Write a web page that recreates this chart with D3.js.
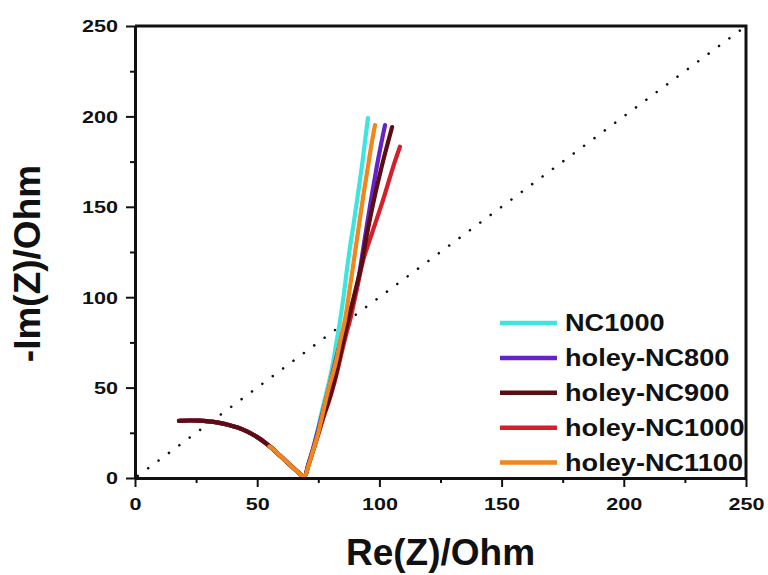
<!DOCTYPE html>
<html>
<head>
<meta charset="utf-8">
<script src="https://cdn.jsdelivr.net/npm/d3@7"></script>
<style>
  html, body { margin: 0; padding: 0; background: #fff; }
  svg { display: block; }
  text { font-family: "Liberation Sans", Arial, sans-serif; font-weight: bold; fill: #111; }
</style>
</head>
<body>
<svg id="chart" width="768" height="575"></svg>
<script>
// Nyquist plot: Re(Z) vs -Im(Z), in Ohm
const seriesNames = ["NC1000", "holey-NC800", "holey-NC900", "holey-NC1000", "holey-NC1100"];
const seriesColors = ["#3ee5de", "#6422c8", "#5c0d14", "#d4202a", "#f0861c"];

// high-frequency semicircle shared by most samples
const arcPoints = [
  [18, 31.6], [22, 31.8], [26, 31.7], [30, 31.3], [34, 30.6], [38, 29.5], [42, 27.9],
  [46, 25.6], [50, 22.6], [53, 19.8], [56, 16.5], [59, 12.8], [62, 9], [65, 5.3],
  [67.3, 2.6], [69.2, 0.6]
];

const nc1000 = arcPoints.concat([
  [71, 8], [73, 17], [75, 28], [77, 40], [79.2, 52], [80.8, 62], [82.3, 74], [83.9, 87],
  [85.3, 100], [86.6, 114], [88, 128], [89.4, 140], [91.1, 156], [92.8, 172], [94, 185], [95.3, 199]
]);

const holeyNC800 = arcPoints.concat([
  [71, 8], [73, 17], [75, 27], [77, 37.5], [79, 48], [81, 59], [83, 70], [85, 80], [87, 89],
  [88.8, 96], [90.5, 104], [92, 115], [94.2, 134], [96.6, 154], [98.9, 172], [100.6, 184], [102.3, 195.2]
]);

const holeyNC900 = arcPoints.concat([
  [71, 7.5], [73, 16], [75, 25], [77, 34], [78.8, 41], [80.3, 47.5], [82, 56], [83.7, 66],
  [85.3, 76], [87, 86], [88.8, 96], [90.6, 106], [92.4, 116], [94.8, 134], [97.8, 154],
  [100.9, 172], [102.4, 180], [105.2, 194.1]
]);

const holeyNC1000 = arcPoints.concat([
  [71, 7], [73, 15.5], [75, 24], [77, 33], [79, 41], [80.8, 49], [82.4, 57], [83.8, 65],
  [85.2, 73], [86.6, 80.5], [88, 87.4], [90.7, 104], [93.4, 120.6], [97, 135.5], [101.3, 153],
  [105.6, 172], [108.4, 183.2]
]);

const holeyNC1100 = [
  [55, 17.5], [57.5, 14.8], [60, 11.6], [62.5, 8.4], [65, 5.2], [67.3, 2.6], [69.2, 0.6],
  [71, 7], [72.8, 15], [74.6, 23], [76.2, 32], [77.7, 41], [79.5, 51], [81, 58], [82.5, 66],
  [84, 76], [85.9, 87.4], [87.2, 98.5], [89.2, 117], [91.2, 135.5], [93.3, 155], [95.3, 172],
  [96.7, 184], [98.2, 195.2]
];

const seriesData = [nc1000, holeyNC800, holeyNC900, holeyNC1000, holeyNC1100];
const drawOrder = [0, 1, 3, 2, 4];

const majorTicks = [0, 50, 100, 150, 200, 250];
const minorTicks = [25, 75, 125, 175, 225];
const refLine = [[0, 0], [250, 250]];

const svg = d3.select("#chart");
const margin = { left: 135, right: 22, top: 26, bottom: 97 };
const W = 768, H = 575;

const x = d3.scaleLinear().domain([0, 250]).range([margin.left, W - margin.right]);
const y = d3.scaleLinear().domain([0, 250]).range([H - margin.bottom, margin.top]);

// widen text horizontally along its baseline
function stretch(sel, factor) {
  sel.each(function () {
    const len = this.getComputedTextLength();
    d3.select(this).attr("textLength", len * factor).attr("lengthAdjust", "spacingAndGlyphs");
  });
}

const line = d3.line().x(d => x(d[0])).y(d => y(d[1])).curve(d3.curveCatmullRom.alpha(0.5));

// dotted y = x reference
svg.append("path")
  .datum(refLine)
  .attr("d", d3.line().x(d => x(d[0])).y(d => y(d[1])))
  .attr("fill", "none")
  .attr("stroke", "#111")
  .attr("stroke-width", 2.6)
  .attr("stroke-linecap", "round")
  .attr("stroke-dasharray", "0.01 12.9")
  .attr("stroke-dashoffset", 9.4);

// data curves
drawOrder.forEach(i => {
  svg.append("path")
    .datum(seriesData[i])
    .attr("d", line)
    .attr("fill", "none")
    .attr("stroke", seriesColors[i])
    .attr("stroke-width", 4.2)
    .attr("stroke-linejoin", "round")
    .attr("stroke-linecap", "round");
});

// frame (top and right)
svg.append("path")
  .attr("d", `M${x(0)},${y(250)}H${x(250)}V${y(0)}`)
  .attr("fill", "none").attr("stroke", "#111").attr("stroke-width", 3);

// bottom axis
const xAxis = svg.append("g").attr("transform", `translate(0,${y(0)})`)
  .call(d3.axisBottom(x).tickValues(majorTicks).tickSize(9).tickSizeOuter(0));
svg.append("g").attr("transform", `translate(0,${y(0)})`)
  .call(d3.axisBottom(x).tickValues(minorTicks).tickSize(5).tickSizeOuter(0).tickFormat(""))
  .call(g => g.select(".domain").remove());

// left axis
const yAxis = svg.append("g").attr("transform", `translate(${x(0)},0)`)
  .call(d3.axisLeft(y).tickValues(majorTicks).tickSize(9).tickSizeOuter(0));
svg.append("g").attr("transform", `translate(${x(0)},0)`)
  .call(d3.axisLeft(y).tickValues(minorTicks).tickSize(5).tickSizeOuter(0).tickFormat(""))
  .call(g => g.select(".domain").remove());

svg.selectAll(".domain").attr("stroke", "#111").attr("stroke-width", 3);
svg.selectAll(".tick line").attr("stroke", "#111").attr("stroke-width", 2);

xAxis.selectAll("text")
  .attr("y", 32).attr("dy", 0)
  .style("font-size", "16.5px").style("font-family", "'Liberation Sans', Arial, sans-serif")
  .style("font-weight", "bold").attr("fill", "#111")
  .each(function () {
    const n = this.textContent.length;
    d3.select(this).attr("textLength", n * 12).attr("lengthAdjust", "spacingAndGlyphs");
  });

yAxis.selectAll("text")
  .attr("x", -17).attr("dy", "0.36em")
  .style("font-size", "16.5px").style("font-family", "'Liberation Sans', Arial, sans-serif")
  .style("font-weight", "bold").attr("fill", "#111")
  .each(function () {
    const n = this.textContent.length;
    d3.select(this).attr("textLength", n * 12).attr("lengthAdjust", "spacingAndGlyphs");
  });

// axis titles
svg.append("text")
  .attr("x", 440.5).attr("y", 565)
  .attr("text-anchor", "middle")
  .style("font-size", "37px")
  .text("Re(Z)/Ohm");

svg.append("text")
  .attr("transform", "translate(40,263.5) rotate(-90)")
  .attr("text-anchor", "middle")
  .style("font-size", "37px")
  .text("-Im(Z)/Ohm");

// legend
const legend = svg.append("g");
seriesNames.forEach((name, i) => {
  const ly = 323 + i * 34.9;
  legend.append("line")
    .attr("x1", 500).attr("x2", 557).attr("y1", ly).attr("y2", ly)
    .attr("stroke", seriesColors[i]).attr("stroke-width", 4.5);
  legend.append("text")
    .attr("x", 565).attr("y", ly + 8)
    .style("font-size", "23px")
    .text(name)
    .call(stretch, 1.18);
});
</script>
</body>
</html>
